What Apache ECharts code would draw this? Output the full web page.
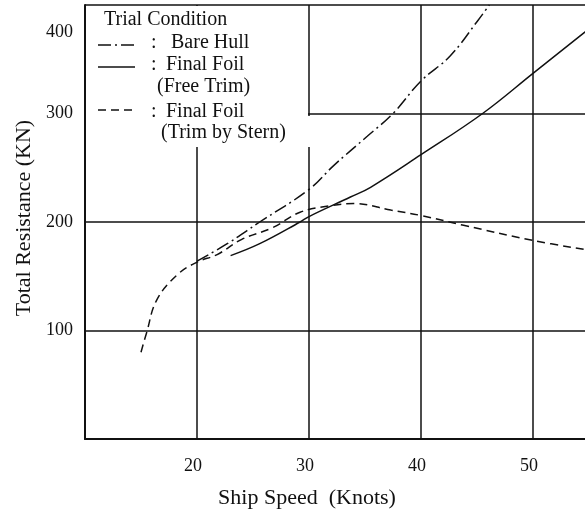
<!DOCTYPE html>
<html>
<head>
<meta charset="utf-8">
<script src="https://cdn.jsdelivr.net/npm/echarts@6/dist/echarts.min.js"></script>
<style>
  html, body { margin: 0; padding: 0; background: #fff; }
  #chart { width: 585px; height: 512px; }
</style>
</head>
<body>
<div id="chart"></div>
<script>
var chart = echarts.init(document.getElementById("chart"));

// ship speed (knots) vs total resistance (KN)
var bareHull = [
    [20, 164], [22.7, 180], [25.6, 200], [30, 230], [32.2, 252], [35.2, 279],
    [37.5, 300], [40, 330], [42.6, 353], [45.1, 386], [46.1, 400]
];
var freeTrim = [
    [23, 169], [25.6, 180], [29.2, 200], [30, 205], [33.7, 223], [35.5, 232],
    [40, 262], [45.5, 300], [50, 337], [55, 378]
];
var trimStern = [
    [15, 80], [15.5, 98], [16.4, 128], [18.2, 151], [20, 163], [21.8, 170],
    [24, 184], [26.8, 195], [29.2, 209], [31.9, 215], [34, 217], [37.3, 211],
    [40, 206], [43.8, 197], [50, 183], [55, 174]
];
var seriesNames = ["Bare Hull", "Final Foil (Free Trim)", "Final Foil (Trim by Stern)"];

var ink = "#111";
var serif = "Liberation Serif";
var dashDot = [13, 4, 2, 4];
var dashed = [8, 5];

function lineSeries(name, data, dash) {
    return {
        name: name,
        type: "line",
        data: data,
        smooth: 0.4,
        symbol: "none",
        lineStyle: { color: ink, width: 1.5, type: dash },
        z: 3
    };
}

// legend box drawn by hand (icons sit on the first text line)
var legendItems = [{
    // white box that hides the grid behind the legend
    type: "polygon",
    z: 50,
    shape: { points: [[86, 6], [308, 6], [308, 116], [314, 116], [314, 147], [86, 147]] },
    style: { fill: "#fff" }
}];
function addIcon(y, dash) {
    legendItems.push({
        type: "line",
        z: 60,
        shape: { x1: 98, y1: y, x2: 135, y2: y },
        style: { stroke: ink, lineWidth: 1.5, lineDash: dash }
    });
}
function addText(x, y, t) {
    legendItems.push({
        type: "text",
        z: 60,
        x: x, y: y,
        style: { text: t, fill: ink, font: "20px " + serif, verticalAlign: "middle" }
    });
}
addText(104, 20, "Trial Condition");
addIcon(45, dashDot);
addText(151, 43, ":");
addText(171, 43, "Bare Hull");
addIcon(67, null);
addText(151, 65, ":");
addText(166, 65, "Final Foil");
addText(157, 87, "(Free Trim)");
addIcon(110, dashed);
addText(151, 112, ":");
addText(166, 112, "Final Foil");
addText(161, 133, "(Trim by Stern)");

var option = {
    backgroundColor: "#fff",
    animation: false,
    grid: { left: 85, top: 5, right: -4, bottom: 73, outerBoundsMode: "none" },
    xAxis: {
        type: "value",
        min: 10, max: 55, interval: 10,
        name: "Ship Speed  (Knots)",
        nameLocation: "middle",
        nameGap: 48,
        nameTextStyle: { color: ink, fontFamily: serif, fontSize: 22, padding: [0, 60, 0, 0] },
        axisLine: { lineStyle: { color: ink, width: 2 } },
        axisTick: { show: false },
        axisLabel: {
            color: ink, fontFamily: serif, fontSize: 18, margin: 18,
            padding: [0, 8, 0, 0],
            formatter: function (v) { return (v === 10 || v === 55) ? "" : v; }
        },
        splitLine: { show: true, lineStyle: { color: ink, width: 1.5 } }
    },
    yAxis: {
        type: "value",
        min: 0, max: 400, interval: 100,
        name: "Total Resistance (KN)",
        nameLocation: "middle",
        nameGap: 50,
        nameTextStyle: { color: ink, fontFamily: serif, fontSize: 22, padding: [0, 0, 0, 8] },
        axisLine: { show: true, lineStyle: { color: ink, width: 2 } },
        axisTick: { show: false },
        axisLabel: {
            color: ink, fontFamily: serif, fontSize: 18, margin: 12,
            formatter: function (v) {
                if (v === 0) return "";
                if (v === 400) return "{top|400}";
                return v;
            },
            rich: { top: { fontFamily: serif, fontSize: 18, color: ink, padding: [54, 0, 0, 0] } }
        },
        splitLine: { show: true, lineStyle: { color: ink, width: 1.5 } }
    },
    graphic: legendItems,
    series: [
        lineSeries(seriesNames[0], bareHull, dashDot),
        lineSeries(seriesNames[1], freeTrim, "solid"),
        lineSeries(seriesNames[2], trimStern, dashed)
    ]
};

chart.setOption(option);
</script>
</body>
</html>
